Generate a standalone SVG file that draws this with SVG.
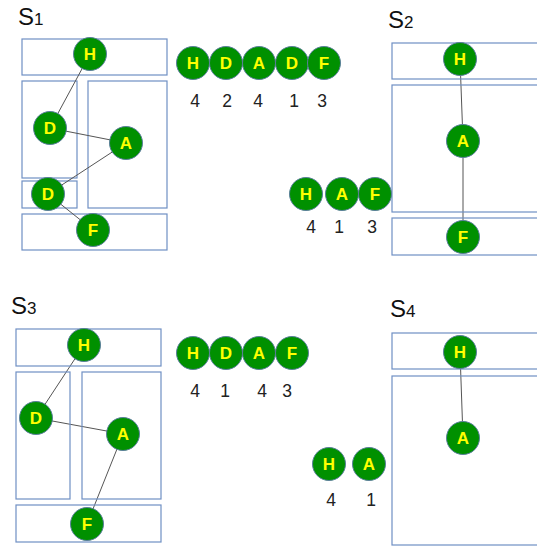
<svg xmlns="http://www.w3.org/2000/svg" width="537" height="546" viewBox="0 0 537 546">
<style>
.box{fill:none;stroke:#6f8fc4;stroke-width:1.2}
.n circle{fill:#009000;stroke:#5a7f9a;stroke-width:1}
.n text{fill:#ffff00;font-family:"Liberation Sans",Arial,sans-serif;font-weight:bold;font-size:17px;text-anchor:middle}
.num{fill:#222;font-family:"Liberation Sans",Arial,sans-serif;font-size:17.5px;text-anchor:middle}
.ttl{fill:#111;font-family:"Liberation Sans",Arial,sans-serif;font-size:24px}
.ttl tspan{font-size:17px}
.edge{stroke:#555;stroke-width:1;fill:none}
</style>
<rect width="537" height="546" fill="#fff"/>
<!-- S1 -->
<text class="ttl" x="18" y="25">S<tspan>1</tspan></text>
<g id="s1-boxes">
<rect class="box" x="22" y="39" width="145" height="36"/>
<rect class="box" x="22" y="81" width="55" height="97"/>
<rect class="box" x="88" y="81" width="79" height="127"/>
<rect class="box" x="22" y="181" width="55" height="27"/>
<rect class="box" x="22" y="214" width="145" height="36"/>
</g>
<g id="connectors">
<line class="edge" x1="90" y1="54" x2="50" y2="128"/>
<line class="edge" x1="50" y1="128" x2="126" y2="143"/>
<line class="edge" x1="126" y1="143" x2="48" y2="194"/>
<line class="edge" x1="48" y1="194" x2="93" y2="230"/>
<line class="edge" x1="460" y1="59" x2="463" y2="141"/>
<line class="edge" x1="463" y1="141" x2="463" y2="237"/>
<line class="edge" x1="84" y1="345" x2="36" y2="418"/>
<line class="edge" x1="36" y1="418" x2="123" y2="434"/>
<line class="edge" x1="123" y1="434" x2="87" y2="524"/>
<line class="edge" x1="460" y1="352" x2="463" y2="438"/>
</g>
<g id="s1-H" class="n"><circle cx="90" cy="54" r="16.5"/><text x="90" y="60">H</text></g>
<g id="s1-D1" class="n"><circle cx="50" cy="128" r="16.5"/><text x="50" y="134">D</text></g>
<g id="s1-A" class="n"><circle cx="126" cy="143" r="16.5"/><text x="126" y="149">A</text></g>
<g id="s1-D2" class="n"><circle cx="48" cy="194" r="16.5"/><text x="48" y="200">D</text></g>
<g id="s1-F" class="n"><circle cx="93" cy="230" r="16.5"/><text x="93" y="236">F</text></g>
<!-- sequence 1 -->
<g id="q1-H" class="n"><circle cx="193" cy="63" r="16.5"/><text x="193" y="69">H</text></g>
<g id="q1-D" class="n"><circle cx="226" cy="63" r="16.5"/><text x="226" y="69">D</text></g>
<g id="q1-A" class="n"><circle cx="259" cy="63" r="16.5"/><text x="259" y="69">A</text></g>
<g id="q1-D2" class="n"><circle cx="292" cy="63" r="16.5"/><text x="292" y="69">D</text></g>
<g id="q1-F" class="n"><circle cx="324" cy="63" r="16.5"/><text x="324" y="69">F</text></g>
<g id="q1-nums">
<text class="num" x="195" y="107">4</text>
<text class="num" x="227" y="107">2</text>
<text class="num" x="258" y="107">4</text>
<text class="num" x="294" y="107">1</text>
<text class="num" x="322" y="107">3</text>
</g>
<!-- S2 -->
<text class="ttl" x="388" y="28">S<tspan>2</tspan></text>
<g id="s2-boxes">
<rect class="box" x="392" y="43" width="160" height="36"/>
<rect class="box" x="392" y="85" width="160" height="127"/>
<rect class="box" x="392" y="218" width="160" height="37"/>
</g>
<g id="s2-H" class="n"><circle cx="460" cy="59" r="16.5"/><text x="460" y="65">H</text></g>
<g id="s2-A" class="n"><circle cx="463" cy="141" r="16.5"/><text x="463" y="147">A</text></g>
<g id="s2-F" class="n"><circle cx="463" cy="237" r="16.5"/><text x="463" y="243">F</text></g>
<g id="q2-H" class="n"><circle cx="306" cy="194" r="16.5"/><text x="306" y="200">H</text></g>
<g id="q2-A" class="n"><circle cx="342" cy="194" r="16.5"/><text x="342" y="200">A</text></g>
<g id="q2-F" class="n"><circle cx="375" cy="194" r="16.5"/><text x="375" y="200">F</text></g>
<g id="q2-nums">
<text class="num" x="311" y="233">4</text>
<text class="num" x="339" y="233">1</text>
<text class="num" x="372" y="233">3</text>
</g>
<!-- S3 -->
<text class="ttl" x="11" y="314">S<tspan>3</tspan></text>
<g id="s3-boxes">
<rect class="box" x="16" y="329" width="145" height="37"/>
<rect class="box" x="16" y="372" width="54" height="127"/>
<rect class="box" x="82" y="372" width="79" height="127"/>
<rect class="box" x="16" y="505" width="145" height="37"/>
</g>
<g id="s3-H" class="n"><circle cx="84" cy="345" r="16.5"/><text x="84" y="351">H</text></g>
<g id="s3-D" class="n"><circle cx="36" cy="418" r="16.5"/><text x="36" y="424">D</text></g>
<g id="s3-A" class="n"><circle cx="123" cy="434" r="16.5"/><text x="123" y="440">A</text></g>
<g id="s3-F" class="n"><circle cx="87" cy="524" r="16.5"/><text x="87" y="530">F</text></g>
<g id="q3-H" class="n"><circle cx="193" cy="353" r="16.5"/><text x="193" y="359">H</text></g>
<g id="q3-D" class="n"><circle cx="226" cy="353" r="16.5"/><text x="226" y="359">D</text></g>
<g id="q3-A" class="n"><circle cx="259" cy="353" r="16.5"/><text x="259" y="359">A</text></g>
<g id="q3-F" class="n"><circle cx="292" cy="353" r="16.5"/><text x="292" y="359">F</text></g>
<g id="q3-nums">
<text class="num" x="195" y="397">4</text>
<text class="num" x="225" y="397">1</text>
<text class="num" x="262" y="397">4</text>
<text class="num" x="287" y="397">3</text>
</g>
<!-- S4 -->
<text class="ttl" x="390" y="317">S<tspan>4</tspan></text>
<g id="s4-boxes">
<rect class="box" x="392" y="333" width="160" height="36"/>
<rect class="box" x="392" y="376" width="160" height="169"/>
</g>
<g id="s4-H" class="n"><circle cx="460" cy="352" r="16.5"/><text x="460" y="358">H</text></g>
<g id="s4-A" class="n"><circle cx="463" cy="438" r="16.5"/><text x="463" y="444">A</text></g>
<g id="q4-H" class="n"><circle cx="329" cy="464" r="16.5"/><text x="329" y="470">H</text></g>
<g id="q4-A" class="n"><circle cx="369" cy="464" r="16.5"/><text x="369" y="470">A</text></g>
<g id="q4-nums">
<text class="num" x="331" y="506">4</text>
<text class="num" x="371" y="506">1</text>
</g>
</svg>
